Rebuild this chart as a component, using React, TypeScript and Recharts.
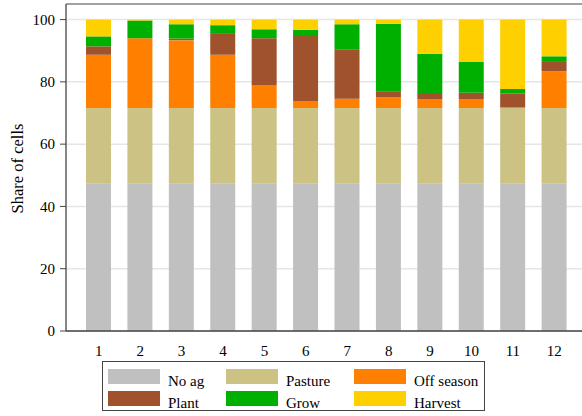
import React from 'react';
import { BarChart, Bar, XAxis, YAxis, CartesianGrid, ReferenceLine } from 'recharts';

// months on the x axis
const months = ['1', '2', '3', '4', '5', '6', '7', '8', '9', '10', '11', '12'];

// share of cells (%) by land-use state
const noAg = [47.3, 47.3, 47.3, 47.3, 47.3, 47.3, 47.3, 47.3, 47.3, 47.3, 47.3, 47.3];
const pasture = [24.3, 24.3, 24.3, 24.3, 24.3, 24.3, 24.3, 24.3, 24.3, 24.3, 24.3, 24.3];
const offSeason = [17.1, 22.4, 21.8, 17.1, 7.2, 2.2, 3.0, 3.4, 2.9, 2.9, 0.2, 11.8];
const plant = [2.7, 0, 0.5, 6.7, 15.2, 20.9, 15.7, 2.0, 1.6, 2.0, 4.5, 3.0];
const grow = [3.2, 5.7, 4.6, 2.8, 2.9, 2.0, 8.2, 21.6, 12.9, 10.0, 1.4, 1.8];
const harvest = [5.4, 0.3, 1.5, 1.8, 3.1, 3.3, 1.5, 1.4, 11.0, 13.5, 22.3, 11.8];

const yTicks = [0, 20, 40, 60, 80, 100];

const series = [
  { key: 'noAg', name: 'No ag', values: noAg, color: '#c0c0c0' },
  { key: 'pasture', name: 'Pasture', values: pasture, color: '#cbc283' },
  { key: 'offSeason', name: 'Off season', values: offSeason, color: '#ff8000' },
  { key: 'plant', name: 'Plant', values: plant, color: '#a0522d' },
  { key: 'grow', name: 'Grow', values: grow, color: '#00b000' },
  { key: 'harvest', name: 'Harvest', values: harvest, color: '#ffd000' },
];

const data = months.map((m, i) => {
  const row: Record<string, number | string> = { month: m };
  series.forEach(s => { row[s.key] = s.values[i]; });
  return row;
});

const font = '"Liberation Serif", "Times New Roman", serif';

// legend grid slots (3 columns, 2 rows)
const colLeft = [5, 123, 251];
const rowTop = [7, 29];

const YLabel = (props: any) => {
  const vb = props.viewBox || {};
  const cy = (vb.y || 0) + (vb.height || 0) / 2 + 1;
  const x = 17;
  return (
    <text
      x={x}
      y={cy}
      transform={`rotate(-90, ${x}, ${cy})`}
      textAnchor="middle"
      dominantBaseline="central"
      fontFamily={font}
      fontSize={16.5}
      fill="#000"
    >
      Share of cells
    </text>
  );
};

export default function App() {
  return (
    <div style={{ position: 'absolute', left: 0, top: 0, width: 582, height: 416, overflow: 'hidden', background: '#fff' }}>
      <BarChart width={582} height={416} data={data} margin={{ top: 4, right: 0, bottom: 0, left: 0 }}>
        <CartesianGrid vertical={false} stroke="#e6e6e6" strokeWidth={1.5} />
        <ReferenceLine y={105} stroke="#888" strokeWidth={1.5} ifOverflow="visible" />
        <XAxis
          dataKey="month"
          height={85}
          padding={{ left: 12, right: 7 }}
          tickLine={false}
          tickMargin={8}
          axisLine={{ stroke: '#444', strokeWidth: 1.3 }}
          tick={{ fontFamily: font, fontSize: 15, fill: '#000' }}
        />
        <YAxis
          width={66}
          domain={[0, 105]}
          ticks={yTicks}
          allowDataOverflow
          tickSize={6}
          tickMargin={5}
          tickLine={{ stroke: '#444' }}
          axisLine={{ stroke: '#444', strokeWidth: 1.3 }}
          tick={{ fontFamily: font, fontSize: 15, fill: '#000' }}
          label={{ content: YLabel }}
        />
        {series.map(s => (
          <Bar
            key={s.key}
            dataKey={s.key}
            name={s.name}
            stackId="a"
            fill={s.color}
            barSize={25}
            isAnimationActive={false}
          />
        ))}
      </BarChart>
      <div
        style={{
          position: 'absolute',
          left: 102,
          top: 361,
          width: 383,
          height: 50,
          boxSizing: 'border-box',
          border: '1px solid #444',
          background: '#fff',
          fontFamily: font,
          fontSize: 15,
        }}
      >
        {series.map((s, i) => (
          <div
            key={s.key}
            style={{ position: 'absolute', left: colLeft[i % 3], top: rowTop[Math.floor(i / 3)], display: 'flex', alignItems: 'flex-start' }}
          >
            <div style={{ width: 52, height: 15, background: s.color }} />
            <span style={{ marginLeft: 8, lineHeight: '15px', paddingTop: 5, color: '#000', whiteSpace: 'nowrap' }}>{s.name}</span>
          </div>
        ))}
      </div>
    </div>
  );
}
